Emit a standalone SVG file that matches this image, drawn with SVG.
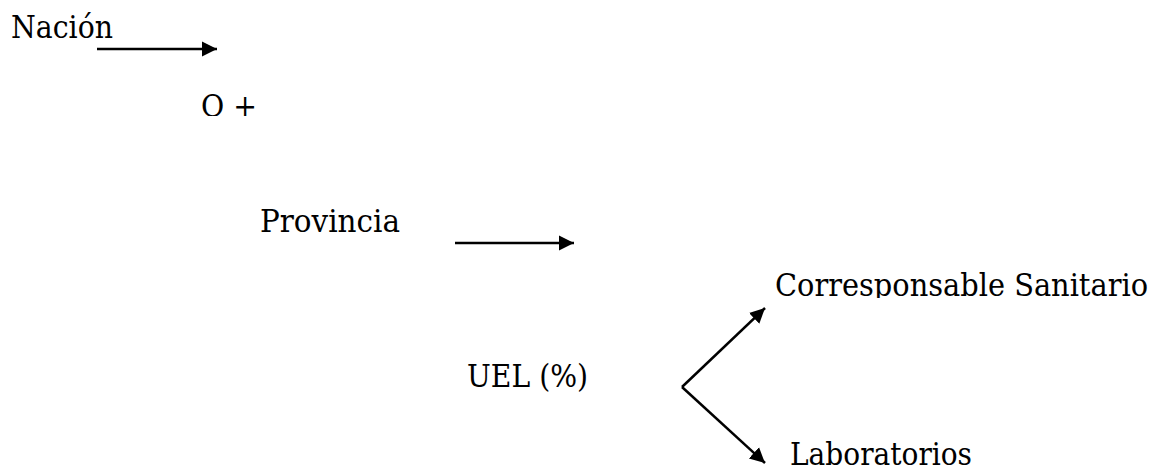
<svg xmlns="http://www.w3.org/2000/svg" width="1160" height="468" viewBox="0 0 1160 468">
<style>
  text { font-family: "DejaVu Serif", "Liberation Serif", serif; font-size: 32px; fill: #000; }
  .conn { stroke: #000; stroke-width: 2.5; fill: none; marker-end: url(#ah); }
</style>
<defs>
  <marker id="ah" markerUnits="userSpaceOnUse" markerWidth="17" markerHeight="17" refX="15" refY="8" orient="auto">
    <path d="M0,0.5 L15,8 L0,15.5 Z" fill="#000"/>
  </marker>
  <clipPath id="clipO"><rect x="0" y="0" width="1160" height="116"/></clipPath>
  <clipPath id="clipC"><rect x="0" y="0" width="1160" height="298"/></clipPath>
</defs>
<rect width="1160" height="468" fill="#fff"/>
<g id="connectors">
  <line class="conn" x1="97" y1="49" x2="217" y2="49"/>
  <line class="conn" x1="455" y1="243" x2="574" y2="243"/>
  <polyline class="conn" points="682,387 765,308"/>
  <polyline class="conn" points="682,387 765,463"/>
</g>
<g id="nacion"><text x="11" y="38" textLength="102" lengthAdjust="spacingAndGlyphs">Nación</text></g>
<g id="o-plus" clip-path="url(#clipO)"><text x="201" y="117" textLength="56" lengthAdjust="spacingAndGlyphs">O +</text></g>
<g id="provincia"><text x="260" y="232" textLength="140" lengthAdjust="spacingAndGlyphs">Provincia</text></g>
<g id="corresponsable" clip-path="url(#clipC)"><text x="775" y="296" textLength="373" lengthAdjust="spacingAndGlyphs">Corresponsable Sanitario</text></g>
<g id="uel"><text x="467" y="387" textLength="121" lengthAdjust="spacingAndGlyphs">UEL (%)</text></g>
<g id="laboratorios"><text x="790" y="465" textLength="182" lengthAdjust="spacingAndGlyphs">Laboratorios</text></g>
</svg>
